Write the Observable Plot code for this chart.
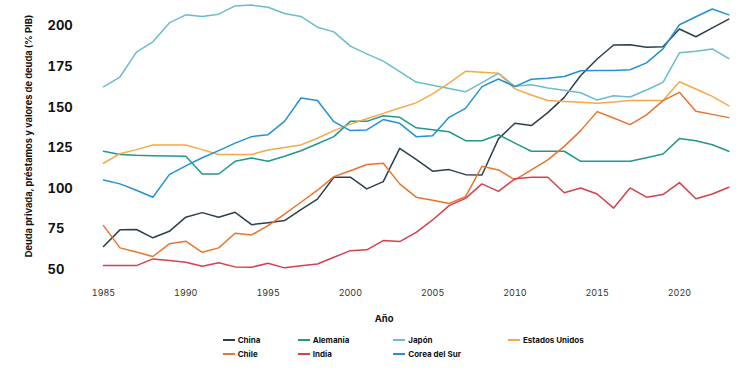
<!DOCTYPE html>
<html>
<head>
<meta charset="utf-8">
<script src="https://cdn.jsdelivr.net/npm/d3@7"></script>
<script src="https://cdn.jsdelivr.net/npm/@observablehq/plot@0.6"></script>
<style>
  body { margin: 0; background: #fff; font-family: Inter, "Liberation Sans", sans-serif; }
  #chart { width: 741px; }
  .legend { display: grid; grid-template-columns: 75px 95.6px 114.7px 140px; margin-left: 222.7px; margin-top: 3px; row-gap: 0px; }
  .item { display: flex; align-items: center; height: 14px; font-size: 8px; font-weight: 700; color: #111; }
  .sw { width: 12px; height: 2.2px; margin-right: 3px; }
</style>
</head>
<body>
<div id="chart"></div>
<script>
const years = d3.range(1985, 2024);
const seriesNames = ["China", "Alemania", "Japón", "Estados Unidos", "Chile", "India", "Corea del Sur"];
const seriesColors = ["#2b3f4c", "#22988b", "#6cbccc", "#f5a947", "#e8742f", "#d6404b", "#2292d2"];

const china = [64.3, 74.6, 74.8, 69.7, 73.7, 82.4, 85.2, 82.4, 85.4, 77.8, 79, 80.3, 87, 93.5, 107, 107, 99.8, 104.3, 124.8, 118, 110.7, 111.7, 108.6, 108.4, 130.6, 140.2, 138.8, 146.8, 156.2, 169.6, 179.8, 188.4, 188.6, 187, 187.4, 198.3, 193.5, 199, 204.4];
const alemania = [123, 121, 120.5, 120.3, 120.1, 119.9, 109, 109, 116.8, 118.9, 116.8, 119.9, 123.3, 127.6, 132, 141.4, 141.4, 144.9, 143.9, 137.4, 136.3, 135, 129.5, 129.5, 133.2, 128, 123, 123, 123, 116.8, 116.8, 116.8, 116.8, 119, 121.3, 130.8, 129.5, 127, 123];
const japon = [162.7, 168.7, 184, 190.4, 202, 207, 206, 207.4, 212.5, 213, 211.7, 207.8, 206, 199.4, 196.5, 187.7, 183, 178.5, 172, 165.6, 163.6, 161.6, 159.6, 165.3, 171, 163, 164, 162, 160.5, 159, 154.5, 157.2, 156.4, 160.7, 165.4, 183.6, 184.6, 186, 180];
const eeuu = [115.6, 121.5, 124, 126.9, 126.9, 126.9, 124, 121, 121, 121, 123.8, 125.3, 126.9, 131, 135.7, 139.7, 143, 146.3, 149.6, 152.8, 158.3, 165, 172.2, 171.6, 171, 161.4, 157.6, 154.2, 153.6, 153.1, 152.5, 153.4, 154.2, 154.2, 154.2, 165.8, 161.3, 156.8, 151];
const chile = [77.2, 63.5, 60.9, 58.2, 66, 67.6, 60.8, 63.5, 72.5, 71.5, 77.2, 84.3, 91.6, 99, 107.4, 111, 114.8, 115.6, 102.9, 94.7, 92.8, 90.8, 95, 113.7, 111.5, 105.4, 111.5, 117.7, 126, 135.7, 147.4, 143.5, 139.4, 145.4, 154.2, 159.3, 147.6, 145.7, 143.7];
const india = [52.6, 52.6, 52.6, 56.7, 55.8, 54.6, 52.2, 54.3, 51.8, 51.6, 54, 51.2, 52.5, 53.6, 57.7, 61.8, 62.3, 68, 67.4, 73, 80.7, 89.5, 94, 102.9, 98.3, 106, 107, 107, 97.4, 100.4, 96.7, 88, 100.4, 94.7, 96.3, 103.7, 93.8, 96.7, 100.8];
const corea = [105.3, 102.9, 99, 94.7, 108.6, 114, 119, 123.4, 128, 132, 133.2, 141.4, 155.8, 154.2, 141.2, 135.7, 136.1, 142.5, 140.2, 132, 132.6, 143.9, 149.4, 162.8, 167.5, 162.8, 167.3, 168, 169, 172.6, 172.7, 172.7, 173.2, 177.4, 186, 200.9, 205.8, 210.6, 207];

const xTicks = [1985, 1990, 1995, 2000, 2005, 2010, 2015, 2020];
const yTicks = [50, 75, 100, 125, 150, 175, 200];
const yTitle = "Deuda privada, préstamos y valores de deuda (% PIB)";
const xTitle = "Año";

const valuesBySeries = [china, alemania, japon, eeuu, chile, india, corea];
const rows = [];
seriesNames.forEach((name, i) => {
  years.forEach((yr, j) => rows.push({series: name, year: yr, value: valuesBySeries[i][j]}));
});

const chart = Plot.plot({
  width: 741,
  height: 330,
  marginLeft: 103,
  marginRight: 12.7,
  marginTop: 25.7,
  marginBottom: 60.7,
  style: {fontFamily: "Inter, 'Liberation Sans', sans-serif", background: "#fff"},
  x: {domain: [1985, 2023]},
  y: {domain: [50, 200]},
  color: {domain: seriesNames, range: seriesColors},
  marks: [
    Plot.axisX({ticks: xTicks, tickFormat: d => String(d), tickSize: 0, tickPadding: 19.5, fontSize: 9, fill: "#333", label: null}),
    Plot.axisY({ticks: yTicks, tickSize: 0, tickPadding: 0, textAnchor: "start", dx: -56, fontSize: 13, fontWeight: 700, fill: "#111", label: null}),
    Plot.text([yTitle], {frameAnchor: "left", rotate: -90, dx: -74, dy: -12, fontSize: 9.3, fontWeight: 700, fill: "#111", textAnchor: "middle", lineAnchor: "middle"}),
    Plot.text([xTitle], {frameAnchor: "bottom", dx: -32, dy: 49.5, fontSize: 9.5, fontWeight: 700, fill: "#111", textAnchor: "middle", lineAnchor: "middle"}),
    Plot.line(rows, {x: "year", y: "value", z: "series", stroke: "series", strokeWidth: 1.5})
  ]
});
document.getElementById("chart").appendChild(chart);

const legend = document.createElement("div");
legend.className = "legend";
const order = ["China", "Alemania", "Japón", "Estados Unidos", "Chile", "India", "Corea del Sur"];
order.forEach(name => {
  const it = document.createElement("div");
  it.className = "item";
  const sw = document.createElement("span");
  sw.className = "sw";
  sw.style.background = seriesColors[seriesNames.indexOf(name)];
  it.appendChild(sw);
  it.appendChild(document.createTextNode(name));
  legend.appendChild(it);
});
document.getElementById("chart").appendChild(legend);
</script>
</body>
</html>
